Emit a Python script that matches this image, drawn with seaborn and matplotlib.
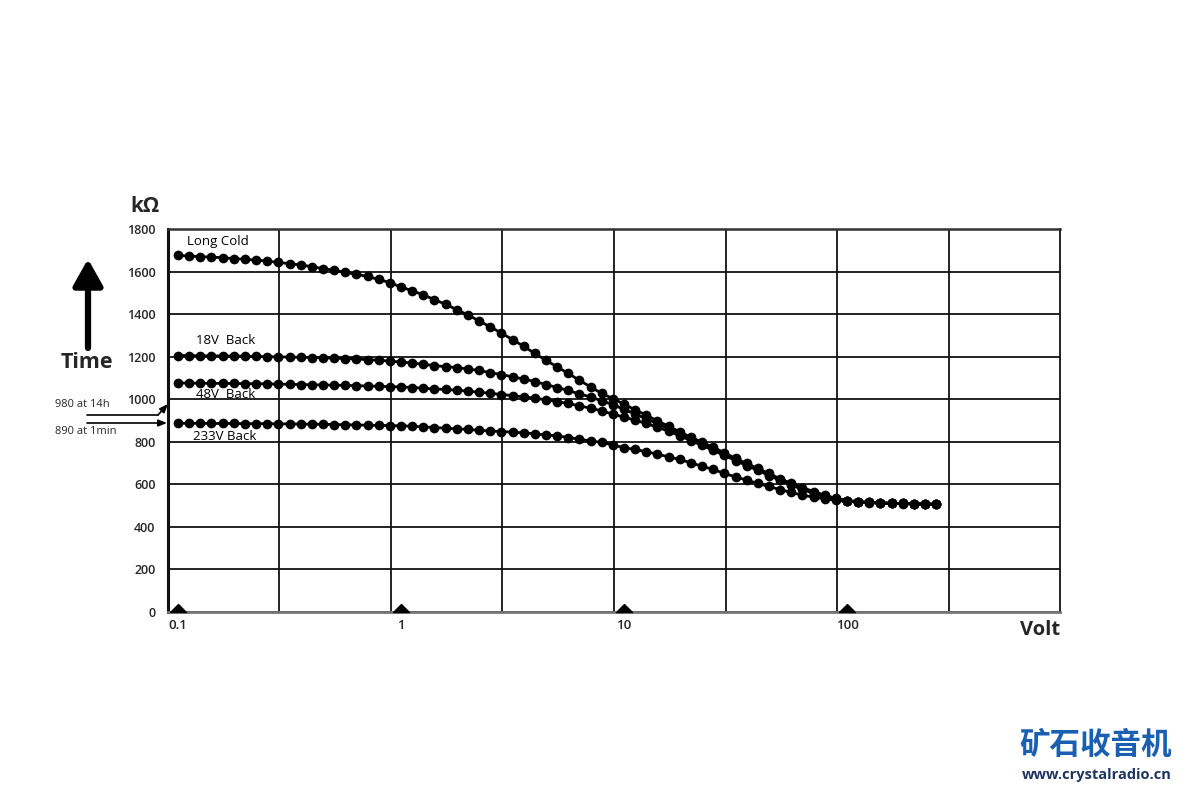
import numpy as np
import pandas as pd
import seaborn as sns
import matplotlib.pyplot as plt
from matplotlib.ticker import NullFormatter

# measuring points: the dots sit evenly on the log axis, 20 per decade, 0.1 V .. ~250 V
volts = np.logspace(-1, 2.4, 69)

# resistance in kOhm
long_cold = [1676, 1673, 1670, 1668, 1665, 1661, 1657, 1654, 1649, 1643, 1637, 1631, 1623, 1614, 1606, 1596,
             1587, 1577, 1563, 1548, 1527, 1510, 1490, 1468, 1446, 1421, 1396, 1368, 1340, 1311, 1280, 1249,
             1215, 1183, 1152, 1121, 1089, 1058, 1027, 1003, 977, 950, 925, 898, 873, 847, 821, 798,
             774, 748, 722, 698, 675, 651, 626, 605, 585, 566, 549, 534, 524, 519, 516, 513, 511, 510,
             509, 508, 507]
back_18v = [1205, 1205, 1204, 1204, 1203, 1203, 1202, 1201, 1200, 1199, 1198, 1197, 1196, 1195, 1193, 1191,
            1189, 1186, 1183, 1179, 1175, 1170, 1164, 1158, 1153, 1149, 1142, 1135, 1125, 1116, 1105, 1095,
            1083, 1069, 1055, 1041, 1025, 1011, 992, 975, 952, 930, 908, 885, 862, 838, 814, 792,
            768, 743, 718, 692, 671, 645, 622, 600, 580, 561, 545, 532, 523, 518, 515, 513, 511, 510,
            509, 508, 507]
back_48v = [1076, 1076, 1075, 1075, 1074, 1074, 1073, 1073, 1072, 1071, 1070, 1069, 1068, 1067, 1066, 1065,
            1064, 1062, 1061, 1059, 1058, 1055, 1052, 1048, 1046, 1042, 1038, 1033, 1028, 1022, 1017, 1011,
            1005, 997, 989, 980, 969, 958, 945, 930, 916, 901, 886, 868, 850, 828, 806, 783,
            760, 736, 712, 688, 666, 641, 619, 597, 576, 557, 542, 530, 522, 517, 514, 512, 510, 509,
            508, 507, 506]
back_233v = [887, 887, 887, 886, 886, 886, 885, 885, 885, 884, 884, 883, 883, 882, 881, 880,
             879, 878, 877, 876, 875, 873, 870, 867, 864, 861, 858, 854, 851, 848, 845, 842,
             837, 832, 828, 820, 812, 804, 797, 785, 772, 764, 753, 742, 729, 717, 701, 685,
             670, 651, 635, 620, 604, 590, 575, 562, 549, 540, 531, 525, 520, 517, 515, 513, 511, 510,
             509, 507, 506]

series_names = ['Long Cold', '18V  Back', '48V  Back', '233V Back']
y_ticks = list(range(0, 1801, 200))
x_ticks = [0.1, 1, 10, 100]
x_tick_labels = ['0.1', '1', '10', '100']

rows = []
for name, vals in zip(series_names, [long_cold, back_18v, back_48v, back_233v]):
    for v, r in zip(volts, vals):
        rows.append({'series': name, 'volt': v, 'kohm': r})
df = pd.DataFrame(rows)

sns.set_style('white')
plt.rcParams['font.family'] = ['Open Sans', 'DejaVu Sans']

W, H = 1184, 789
fig = plt.figure(figsize=(W / 100, H / 100), dpi=100)
ax = fig.add_axes([168 / W, 1 - 612 / H, 892 / W, 383 / H])


def fpos(x, y):
    # pixel position in the picture -> figure fraction
    return x / W, 1 - y / H


sns.lineplot(data=df, x='volt', y='kohm', hue='series', palette=['black'] * 4,
             estimator=None, sort=False, marker='o', markersize=7, markeredgewidth=0,
             linewidth=2.0, legend=False, ax=ax, zorder=3)

ax.set_xscale('log')
ax.set_xlim(10 ** -1.045, 10 ** 2.955)
ax.set_ylim(0, 1800)
ax.set_xlabel('')
ax.set_ylabel('')

# grid: horizontal every 200, vertical every half decade (shifted off the decade marks)
ax.set_yticks(y_ticks)
ax.set_xticks(x_ticks)
ax.set_xticklabels(x_tick_labels)
ax.set_xticks([10 ** (-0.545 + 0.5 * j) for j in range(7)], minor=True)
ax.xaxis.set_minor_formatter(NullFormatter())
ax.grid(False)
ax.grid(True, which='major', axis='y', color='#111111', linewidth=1.3)
ax.grid(True, which='minor', axis='x', color='#111111', linewidth=1.3)
ax.tick_params(which='both', length=0)
ax.tick_params(axis='y', pad=9, labelsize=9)
ax.tick_params(axis='x', pad=5, labelsize=9.5)
for lab in ax.get_xticklabels() + ax.get_yticklabels():
    lab.set_fontweight('semibold')
for lab in ax.get_xticklabels():
    lab.set_horizontalalignment('center')

ax.spines['left'].set_linewidth(2.2)
ax.spines['left'].set_color('#111111')
ax.spines['top'].set_linewidth(1.8)
ax.spines['top'].set_color('#333333')
ax.spines['right'].set_linewidth(1.3)
ax.spines['right'].set_color('#111111')
ax.spines['bottom'].set_linewidth(2.0)
ax.spines['bottom'].set_color('#777777')

# little triangles on the decade marks
tri = [(-1, 0), (0, 1.0), (1, 0), (-1, 0)]
ax.plot(x_ticks, [0] * len(x_ticks), linestyle='none', marker=tri, markersize=11.5,
        color='black', clip_on=False, zorder=5)

# curve labels
label_pos = [(187, 241), (196, 340), (196, 394), (193, 436)]
for name, (px, py) in zip(series_names, label_pos):
    fig.text(*fpos(px, py), name, fontsize=9.5, ha='left', va='center', color='black')

# axis titles
fig.text(*fpos(145, 206), 'kΩ', fontsize=15, fontweight='bold', ha='center', va='center')
fig.text(*fpos(1060, 630), 'Volt', fontsize=14.5, fontweight='bold', ha='right', va='center')

# big "Time" arrow
ax.annotate('', xy=fpos(88, 259), xytext=fpos(88, 348), xycoords='figure fraction',
            textcoords='figure fraction',
            arrowprops=dict(arrowstyle='-|>,head_width=0.9,head_length=1.6', color='black',
                            linewidth=4.5, shrinkA=0, shrinkB=0))
fig.text(*fpos(87, 362), 'Time', fontsize=15.5, fontweight='bold', ha='center', va='center')

# start-value notes
fig.text(*fpos(55, 405), '980 at 14h', fontsize=8, ha='left', va='center')
fig.text(*fpos(55, 431), '890 at 1min', fontsize=8, ha='left', va='center')
x0, y0 = fpos(87, 415)
x1, y1 = fpos(158, 415)
fig.add_artist(plt.Line2D([x0, x1], [y0, y1], color='black', linewidth=1.2))
ax.annotate('', xy=fpos(168, 404), xytext=(x1, y1), xycoords='figure fraction',
            textcoords='figure fraction',
            arrowprops=dict(arrowstyle='-|>,head_width=0.2,head_length=0.5', color='black',
                            linewidth=1.2, shrinkA=0, shrinkB=0))
ax.annotate('', xy=fpos(167, 423), xytext=fpos(87, 423), xycoords='figure fraction',
            textcoords='figure fraction',
            arrowprops=dict(arrowstyle='-|>,head_width=0.2,head_length=0.5', color='black',
                            linewidth=1.2, shrinkA=0, shrinkB=0))

# site mark
fig.text(*fpos(1096, 745), '矿石收音机', family=['Noto Sans CJK SC', 'DejaVu Sans'],
         fontsize=22, fontweight='bold', color='#1b5fb3', ha='center', va='center')
fig.text(*fpos(1097, 775), 'www.crystalradio.cn', fontsize=10.5, fontweight='bold',
         color='#1d3461', ha='center', va='center')

plt.savefig('out.png', dpi=100)
